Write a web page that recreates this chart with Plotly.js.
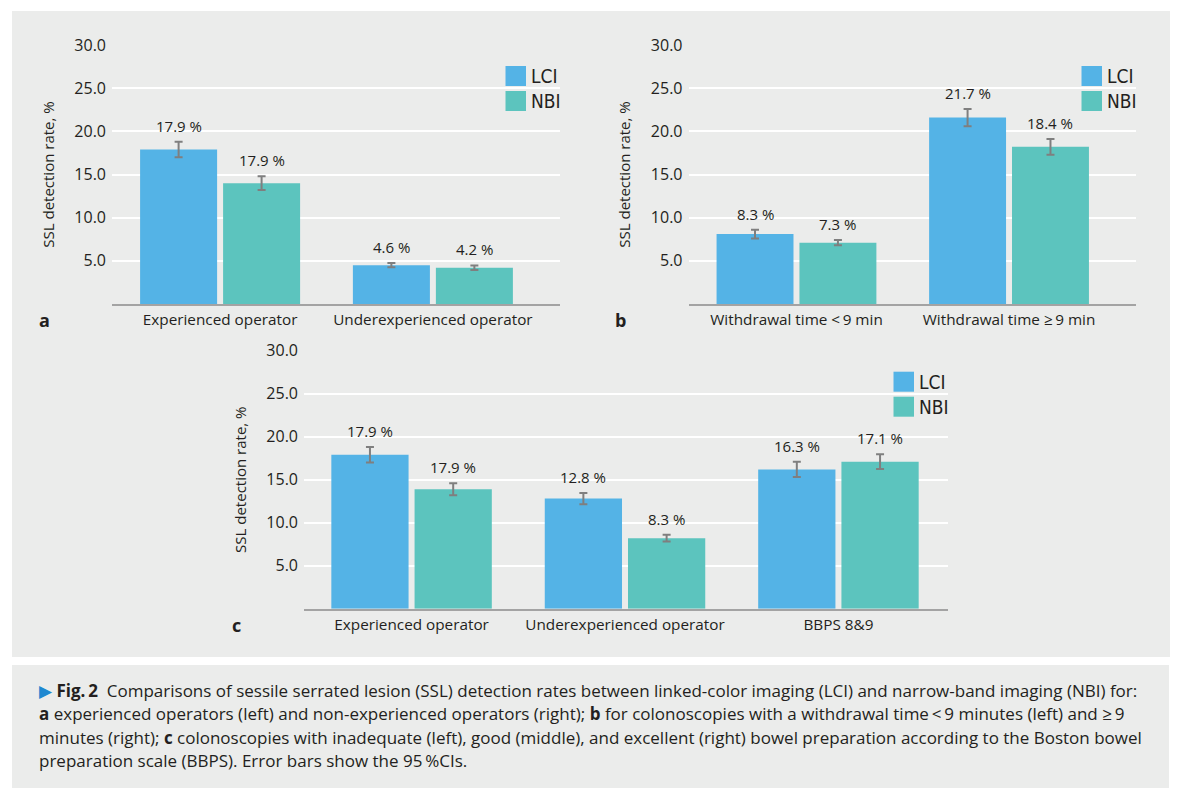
<!DOCTYPE html>
<html><head><meta charset="utf-8">
<script src="https://cdn.plot.ly/plotly-3.0.1.min.js"></script>
<style>html,body{margin:0;padding:0;background:#fff}#chart{width:1189px;height:802px}</style>
</head><body><div id="chart"></div>
<script>
// ---------- data ----------
const seriesNames = ["LCI", "NBI"];

const catsA = ["Experienced operator", "Underexperienced operator"];
const lciA = [17.9, 4.5];
const lciErrA = [0.9, 0.25];
const nbiA = [14.0, 4.2];
const nbiErrA = [0.8, 0.27];
const lciLabelsA = ["17.9 %", "4.6 %"];
const nbiLabelsA = ["17.9 %", "4.2 %"];

const catsB = ["Withdrawal time <\u20099 min", "Withdrawal time ≥\u20099 min"];
const lciB = [8.1, 21.6];
const lciErrB = [0.5, 1.0];
const nbiB = [7.1, 18.2];
const nbiErrB = [0.3, 0.9];
const lciLabelsB = ["8.3 %", "21.7 %"];
const nbiLabelsB = ["7.3 %", "18.4 %"];

const catsC = ["Experienced operator", "Underexperienced operator", "BBPS 8&9"];
const lciC = [17.9, 12.8, 16.2];
const lciErrC = [0.9, 0.65, 0.9];
const nbiC = [13.9, 8.2, 17.1];
const nbiErrC = [0.7, 0.4, 0.85];
const lciLabelsC = ["17.9 %", "12.8 %", "16.3 %"];
const nbiLabelsC = ["17.9 %", "8.3 %", "17.1 %"];

const yTickVals = [5, 10, 15, 20, 25, 30];
const yTitle = "SSL detection rate, %";
const panelLetters = ["a", "b", "c"];
const captionLines = [
  '<span style="color:#1e88d0">▶</span> <b>Fig.\u20092</b>  Comparisons of sessile serrated lesion (SSL) detection rates between linked-color imaging (LCI) and narrow-band imaging (NBI) for:',
  '<b>a</b> experienced operators (left) and non-experienced operators (right); <b>b</b> for colonoscopies with a withdrawal time\u2009<\u20099 minutes (left) and ≥\u20099',
  'minutes (right); <b>c</b> colonoscopies with inadequate (left), good (middle), and excellent (right) bowel preparation according to the Boston bowel',
  'preparation scale (BBPS). Error bars show the 95\u2009%CIs.'
];

// ---------- style ----------
const W = 1189, H = 802;
const FONT = '"Open Sans", "Noto Sans", sans-serif';
const NARROW = '"Liberation Sans Narrow", "DejaVu Sans Condensed", "Roboto Condensed", Roboto, sans-serif';
const TXT = '#231f20';
const COL = {LCI: '#54b3e6', NBI: '#5cc4be'};
const BG = '#ebeceb';
const BARGAP = 0.22, GROUPGAP = 0.072;
const px = v => v / W;
const py = v => 1 - v / H;

// panel geometry (pixels)
const panels = [
  {cats: catsA, lci: lciA, lciE: lciErrA, nbi: nbiA, nbiE: nbiErrA, lciL: lciLabelsA, nbiL: nbiLabelsA,
   x0: 112, x1: 559.5, y0: 45, y1: 304, range: [-0.508, 1.595], ax: '', letterX: 44, letterY: 320},
  {cats: catsB, lci: lciB, lciE: lciErrB, nbi: nbiB, nbiE: nbiErrB, lciL: lciLabelsB, nbiL: nbiLabelsB,
   x0: 688.5, x1: 1135.5, y0: 45, y1: 304, range: [-0.508, 1.595], ax: '2', letterX: 621, letterY: 320},
  {cats: catsC, lci: lciC, lciE: lciErrC, nbi: nbiC, nbiE: nbiErrC, lciL: lciLabelsC, nbiL: nbiLabelsC,
   x0: 304, x1: 947.5, y0: 350.7, y1: 608.7, range: [-0.504, 2.511], ax: '3', letterX: 236, letterY: 625}
];

const traces = [];
const annotations = [];
const shapes = [
  {type: 'rect', xref: 'paper', yref: 'paper', x0: px(12), x1: px(1170), y0: py(657), y1: py(11),
   fillcolor: BG, line: {width: 0}, layer: 'below'},
  {type: 'rect', xref: 'paper', yref: 'paper', x0: px(12), x1: px(1169), y0: py(788), y1: py(665),
   fillcolor: BG, line: {width: 0}, layer: 'below'}
];
const layout = {
  width: W, height: H, margin: {l: 0, r: 0, t: 0, b: 0},
  paper_bgcolor: '#ffffff', plot_bgcolor: 'rgba(0,0,0,0)',
  barmode: 'group', bargap: BARGAP, bargroupgap: GROUPGAP,
  showlegend: false, font: {family: FONT, color: TXT, size: 15}
};

const slot = (1 - BARGAP) / 2;
panels.forEach((p, k) => {
  const xa = 'x' + p.ax, ya = 'y' + p.ax;
  [[seriesNames[0], p.lci, p.lciE, p.lciL, -slot / 2], [seriesNames[1], p.nbi, p.nbiE, p.nbiL, slot / 2]]
    .forEach(([name, vals, errs, labels, off]) => {
      traces.push({
        type: 'bar', name: name, x: p.cats, y: vals, xaxis: xa, yaxis: ya,
        marker: {color: COL[name], line: {width: 0}},
        error_y: {type: 'data', array: errs, visible: true, color: '#7f7f7f', thickness: 2, width: 4},
        hoverinfo: 'y'
      });
      vals.forEach((v, i) => {
        annotations.push({xref: xa, yref: ya, x: i + off, y: v + errs[i], text: labels[i],
          showarrow: false, yanchor: 'middle', yshift: 16, font: {size: 15, family: FONT, color: TXT}});
      });
    });
  layout['xaxis' + p.ax] = {
    domain: [px(p.x0), px(p.x1)], anchor: ya, type: 'category', range: p.range,
    showgrid: false, zeroline: false, showline: true, linecolor: '#a3a3a3', linewidth: 2,
    ticks: '', tickfont: {size: 15.3, family: FONT, color: TXT}, ticklabelstandoff: 1, fixedrange: true
  };
  layout['yaxis' + p.ax] = {
    domain: [py(p.y1), py(p.y0)], anchor: xa, range: [0, 30], tickvals: yTickVals, tickformat: '.1f',
    showgrid: true, gridcolor: '#ffffff', gridwidth: 2, zeroline: false, showline: false, ticks: '',
    tickfont: {size: 16, family: FONT, color: TXT}, ticklabelstandoff: 5,
    title: {text: yTitle, font: {size: 15, family: FONT, color: TXT}, standoff: 16}, fixedrange: true
  };
  // panel letter
  annotations.push({xref: 'paper', yref: 'paper', x: px(p.letterX), y: py(p.letterY), text: '<b>' + panelLetters[k] + '</b>',
    showarrow: false, xanchor: 'center', yanchor: 'middle', font: {size: 18, family: FONT, color: TXT}});
  // legend
  const R = p.x1, T = p.y0;
  seriesNames.forEach((name, j) => {
    const top = T + 21 + j * 25;
    shapes.push({type: 'rect', xref: 'paper', yref: 'paper', x0: px(R - 54), x1: px(R - 33.5),
      y0: py(top + 20), y1: py(top), fillcolor: COL[name], line: {width: 0}});
    annotations.push({xref: 'paper', yref: 'paper', x: px(R - 31), y: py(top + 10), text: name,
      showarrow: false, xanchor: 'left', yanchor: 'middle', font: {size: 19, family: NARROW, color: TXT}});
  });
});

const lineY = [690, 713, 737, 760];
captionLines.forEach((t, i) => {
  annotations.push({xref: 'paper', yref: 'paper', x: px(37), y: py(lineY[i]), text: t, showarrow: false,
    xanchor: 'left', yanchor: 'middle', align: 'left', font: {size: 17, family: FONT, color: TXT}});
});

layout.annotations = annotations;
layout.shapes = shapes;
Plotly.newPlot('chart', traces, layout, {displayModeBar: false, staticPlot: true});
</script></body></html>
